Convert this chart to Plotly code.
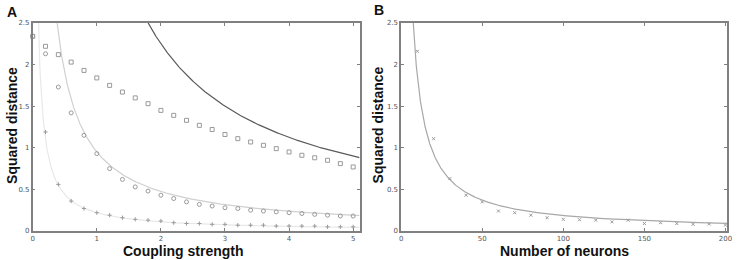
import plotly.graph_objects as go
import numpy as np

# Panel A data
coupling = [round(0.2 * i, 1) for i in range(26)]  # 0..5
sq_vals = [2.34, 2.22, 2.12, 2.03, 1.93, 1.84, 1.75, 1.67, 1.60, 1.53, 1.45, 1.39, 1.33, 1.27,
           1.22, 1.16, 1.11, 1.07, 1.03, 0.99, 0.95, 0.91, 0.88, 0.85, 0.81, 0.77]
circ_vals = [2.34, 2.13, 1.73, 1.42, 1.15, 0.93, 0.75, 0.62, 0.53, 0.48, 0.43, 0.39, 0.35, 0.32,
             0.30, 0.28, 0.27, 0.25, 0.24, 0.23, 0.22, 0.21, 0.20, 0.19, 0.18, 0.18]
plus_x = coupling[1:]
plus_vals = [1.19, 0.56, 0.36, 0.27, 0.22, 0.19, 0.16, 0.14, 0.13, 0.12, 0.10, 0.09, 0.09, 0.08,
             0.08, 0.07, 0.07, 0.07, 0.06, 0.06, 0.06, 0.06, 0.05, 0.05, 0.05]
# fitted curve coefficients (y = k / x)
curve_k_A = [4.5, 0.95, 0.22]
curve_colors_A = ["#5a5a5a", "#d0d0d0", "#e8e8e8"]

# Panel B data
neurons = list(range(10, 201, 10))
cross_vals = [2.16, 1.11, 0.63, 0.43, 0.35, 0.24, 0.22, 0.19, 0.16, 0.14, 0.136, 0.13, 0.11,
              0.13, 0.09, 0.10, 0.09, 0.08, 0.085, 0.07]
curve_k_B = 18.5

W, H = 739, 260
MT, MB = 23, 29
fig = go.Figure()

xa = np.linspace(0.01, 5.1, 800)
for k, c in zip(curve_k_A, curve_colors_A):
    fig.add_trace(go.Scatter(x=xa, y=k / xa, mode="lines", line=dict(color=c, width=1.2),
                             xaxis="x", yaxis="y", showlegend=False, hoverinfo="skip"))

mk = dict(color="#9a9a9a", size=4, line=dict(color="#9a9a9a", width=1))
mk_small = dict(color="#9a9a9a", size=3, line=dict(color="#9a9a9a", width=1))
fig.add_trace(go.Scatter(x=coupling, y=sq_vals, mode="markers",
                         marker=dict(symbol="square-open", **mk), xaxis="x", yaxis="y", showlegend=False, cliponaxis=False))
fig.add_trace(go.Scatter(x=coupling, y=circ_vals, mode="markers",
                         marker=dict(symbol="circle-open", **mk), xaxis="x", yaxis="y", showlegend=False, cliponaxis=False))
fig.add_trace(go.Scatter(x=plus_x, y=plus_vals, mode="markers",
                         marker=dict(symbol="cross-thin-open", **mk_small), xaxis="x", yaxis="y", showlegend=False))

xb = np.linspace(1, 201, 1500)
fig.add_trace(go.Scatter(x=xb, y=curve_k_B / xb, mode="lines", line=dict(color="#a8a8a8", width=1.2),
                         xaxis="x2", yaxis="y2", showlegend=False, hoverinfo="skip"))
fig.add_trace(go.Scatter(x=neurons, y=cross_vals, mode="markers",
                         marker=dict(symbol="x-thin-open", **mk_small), xaxis="x2", yaxis="y2", showlegend=False))

axis_common = dict(showgrid=False, zeroline=False, showline=True, linecolor="#808080", linewidth=1.5,
                   mirror="allticks", ticks="inside", ticklen=3, tickcolor="#808080",
                   tickfont=dict(family="DejaVu Sans", size=7, color="#555555"))

fig.update_layout(
    width=W, height=H, margin=dict(l=0, r=0, t=MT, b=MB),
    paper_bgcolor="white", plot_bgcolor="white",
    xaxis=dict(domain=[31 / W, 361 / W], range=[0, 5.1], tickvals=[0, 1, 2, 3, 4, 5], anchor="y", **axis_common),
    yaxis=dict(domain=[0, 1], range=[0, 2.5], tickvals=[0, 0.5, 1, 1.5, 2, 2.5], anchor="x", **axis_common),
    xaxis2=dict(domain=[403 / W, 732 / W], range=[0, 201], tickvals=[0, 50, 100, 150, 200], anchor="y2", **axis_common),
    yaxis2=dict(domain=[0, 1], range=[0, 2.5], tickvals=[0, 0.5, 1, 1.5, 2, 2.5], anchor="x2", **axis_common),
)


def py2paper(py):
    return (H - MB - py) / (H - MT - MB)


title_font = dict(family="Liberation Sans", size=14, color="#111111")
annotations = []
for txt, px, py in [("<b>A</b>", 10, 12), ("<b>B</b>", 381, 10),
                    ("<b>Coupling strength</b>", 183, 251), ("<b>Number of neurons</b>", 568, 251)]:
    annotations.append(dict(text=txt, x=px / W, y=py2paper(py), xref="paper", yref="paper",
                            yanchor="middle", xanchor="center", showarrow=False, font=title_font))
for txt, px in [("<b>Squared distance</b>", 10, ), ("<b>Squared distance</b>", 380)]:
    annotations.append(dict(text=txt, x=px / W, y=py2paper(125), xref="paper", yref="paper",
                            textangle=-90, showarrow=False, font=title_font, xanchor="center", yanchor="middle"))
fig.update_layout(annotations=annotations)

fig.write_html("out.html")
